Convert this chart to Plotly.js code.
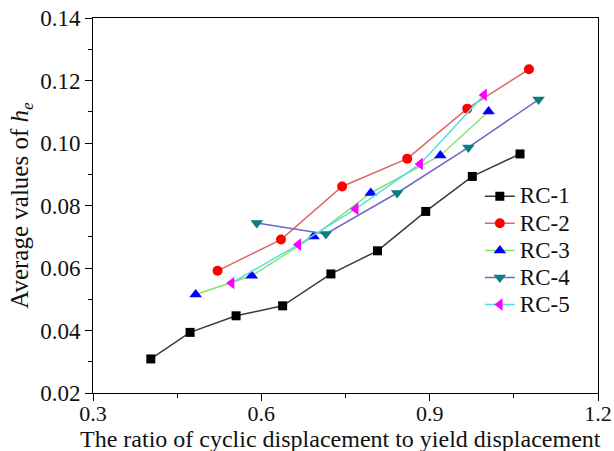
<!DOCTYPE html>
<html><head><meta charset="utf-8">
<script src="https://cdn.plot.ly/plotly-3.0.1.min.js"></script>
<style>html,body{margin:0;padding:0;background:#fff}#chart{width:614px;height:451px}</style>
</head><body><div id="chart"></div>
<script>
const rc1X = [0.403, 0.473, 0.555, 0.638, 0.724, 0.807, 0.893, 0.976, 1.061];
const rc1Y = [0.0309, 0.0394, 0.0447, 0.0479, 0.0581, 0.0655, 0.0781, 0.0893, 0.0965];
const rc2X = [0.522, 0.635, 0.744, 0.860, 0.967, 1.077];
const rc2Y = [0.0591, 0.0691, 0.0861, 0.0950, 0.1110, 0.1236];
const rc3X = [0.483, 0.583, 0.693, 0.795, 0.919, 1.005];
const rc3Y = [0.0515, 0.0575, 0.0701, 0.0840, 0.0960, 0.1101];
const rc4X = [0.592, 0.715, 0.842, 0.969, 1.094];
const rc4Y = [0.0744, 0.0709, 0.0840, 0.0986, 0.1139];
const rc5X = [0.547, 0.666, 0.768, 0.883, 0.997];
const rc5Y = [0.0552, 0.0675, 0.0789, 0.0933, 0.1154];
const names = ['RC-1', 'RC-2', 'RC-3', 'RC-4', 'RC-5'];
const xTitle = 'The ratio of cyclic displacement to yield displacement';
const yTitle = 'Average values of <i>h</i><sub><i>e</i></sub>';

const specs = [
  {x: rc1X, y: rc1Y, line: '#3a3a3a', mc: '#000000', sym: 'square', size: 9},
  {x: rc2X, y: rc2Y, line: '#e06666', mc: '#ff0000', sym: 'circle', size: 10},
  {x: rc3X, y: rc3Y, line: '#88e070', mc: '#0000ff', sym: 'triangle-up', size: 11},
  {x: rc4X, y: rc4Y, line: '#6a6ac8', mc: '#0a7f7f', sym: 'triangle-down', size: 11},
  {x: rc5X, y: rc5Y, line: '#55e0e0', mc: '#ff00ff', sym: 'triangle-left', size: 11}
];
const traces = specs.map((s, i) => ({
  type: 'scatter', mode: 'lines+markers',
  name: '<span style="font-size:23px">' + names[i] + '</span>',
  x: s.x, y: s.y,
  line: {color: s.line, width: 1.5},
  marker: {color: s.mc, symbol: s.sym, size: s.size, line: {width: 0}}
}));

const FAM = 'Liberation Serif';
const layout = {
  width: 614, height: 451,
  margin: {l: 93, r: 16, t: 18, b: 58},
  paper_bgcolor: '#fff', plot_bgcolor: '#fff',
  font: {family: FAM, color: '#111', size: 21},
  showlegend: true,
  legend: {x: 0.766, y: 0.574, xanchor: 'left', yanchor: 'top', bgcolor: 'rgba(0,0,0,0)',
    font: {family: FAM, size: 18.5, color: '#111'}, tracegroupgap: 0, itemwidth: 30},
  xaxis: {
    range: [0.3, 1.2], dtick: 0.3, tick0: 0.3, tickformat: '.1f',
    showgrid: false, zeroline: false, showline: true, linecolor: '#000', linewidth: 1, mirror: true,
    ticks: 'outside', ticklen: 7, tickcolor: '#000', ticklabelstandoff: -6,
    minor: {dtick: 0.15, ticks: 'outside', ticklen: 4, tickcolor: '#000', showgrid: false},
    tickfont: {family: FAM, size: 22}
  },
  yaxis: {
    range: [0.02, 0.14], dtick: 0.02, tick0: 0.02, tickformat: '.2f',
    showgrid: false, zeroline: false, showline: true, linecolor: '#000', linewidth: 1, mirror: true,
    ticks: 'outside', ticklen: 7, tickcolor: '#000',
    minor: {dtick: 0.01, ticks: 'outside', ticklen: 4, tickcolor: '#000', showgrid: false},
    tickfont: {family: FAM, size: 23},
    title: {text: yTitle, font: {family: FAM, size: 25}, standoff: 4}
  },
  annotations: [{
    text: xTitle, xref: 'paper', yref: 'paper', x: 0.49, y: 0,
    xanchor: 'center', yanchor: 'top', yshift: -32, showarrow: false,
    font: {family: FAM, size: 24, color: '#111'}, borderpad: 0
  }]
};
Plotly.newPlot('chart', traces, layout, {displayModeBar: false, staticPlot: true});
</script></body></html>
